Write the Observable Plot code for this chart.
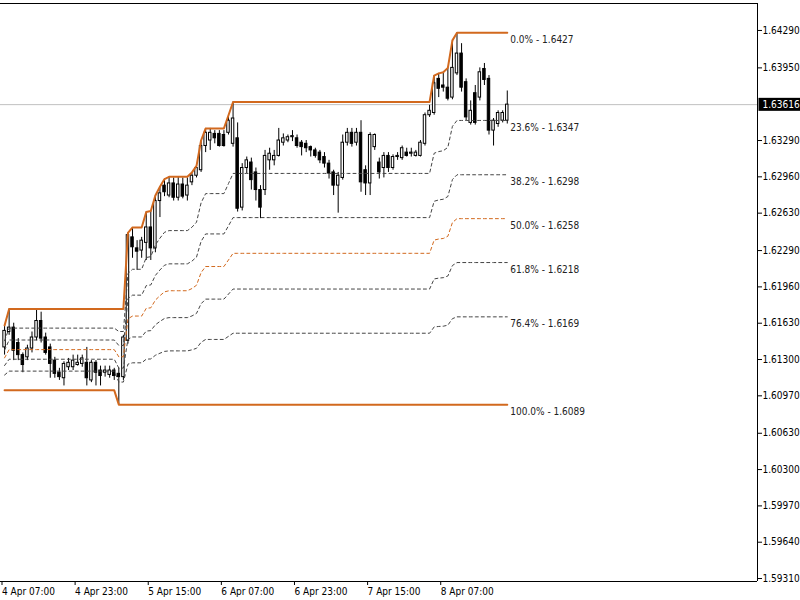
<!DOCTYPE html>
<html><head><meta charset="utf-8">
<script src="https://cdn.jsdelivr.net/npm/d3@7"></script>
<script src="https://cdn.jsdelivr.net/npm/@observablehq/plot@0.6"></script>
<style>body{margin:0;background:#fff;}#chart svg{display:block;}</style>
</head><body><div id="chart"></div>
<script>
// Hourly candles, bar 0 = 4 Apr 08:00 (hours counted from 4 Apr 07:00)
const firstHour = 1;
const openP = [1.6141,1.6155,1.6159,1.6145,1.6134,1.6132,1.6140,1.6150,1.6165,1.6150,
1.6141,1.6129,1.6118,1.6113,1.6123,1.6123,1.6125,1.6126,1.6127,1.6111,
1.6127,1.6120,1.6118,1.6116,1.6120,1.6117,1.6114,1.6147,1.6241,1.6231,
1.6229,1.6236,1.6250,1.6231,1.6274,1.6288,1.6279,1.6290,1.6277,1.6289,
1.6279,1.6291,1.6297,1.6302,1.6324,1.6329,1.6335,1.6335,1.6334,1.6336,
1.6326,1.6331,1.6268,1.6304,1.6309,1.6300,1.6284,1.6284,1.6311,1.6311,
1.6315,1.6327,1.6329,1.6332,1.6331,1.6327,1.6326,1.6323,1.6320,1.6318,
1.6314,1.6308,1.6300,1.6288,1.6295,1.6327,1.6336,1.6327,1.6336,1.6302,
1.6290,1.6323,1.6309,1.6304,1.6315,1.6304,1.6314,1.6313,1.6318,1.6317,
1.6315,1.6315,1.6326,1.6352,1.6354,1.6385,1.6379,1.6377,1.6368,1.6390,
1.6408,1.6382,1.6345,1.6372,1.6368,1.6394,1.6385,1.6338,1.6344,1.6347,1.6347];
const highP = [1.6161,1.6176,1.6163,1.6149,1.6136,1.6143,1.6155,1.6176,1.6173,1.6154,
1.6144,1.6132,1.6122,1.6128,1.6131,1.6134,1.6134,1.6134,1.6141,1.6129,
1.6129,1.6124,1.6124,1.6124,1.6122,1.6122,1.6152,1.6245,1.6250,1.6238,
1.6241,1.6264,1.6265,1.6279,1.6287,1.6294,1.6296,1.6295,1.6296,1.6295,
1.6295,1.6300,1.6306,1.6329,1.6340,1.6340,1.6338,1.6338,1.6338,1.6352,
1.6364,1.6345,1.6308,1.6314,1.6313,1.6304,1.6288,1.6320,1.6322,1.6320,
1.6340,1.6335,1.6334,1.6338,1.6334,1.6329,1.6329,1.6324,1.6322,1.6320,
1.6318,1.6311,1.6302,1.6300,1.6334,1.6340,1.6340,1.6340,1.6347,1.6306,
1.6336,1.6335,1.6313,1.6318,1.6318,1.6316,1.6318,1.6324,1.6322,1.6322,
1.6320,1.6329,1.6354,1.6361,1.6388,1.6390,1.6391,1.6395,1.6420,1.6427,
1.6417,1.6385,1.6365,1.6379,1.6395,1.6399,1.6388,1.6349,1.6356,1.6356,1.6374];
const lowP = [1.6134,1.6152,1.6129,1.6129,1.6118,1.6129,1.6136,1.6147,1.6145,1.6134,
1.6113,1.6113,1.6111,1.6106,1.6120,1.6120,1.6124,1.6123,1.6106,1.6109,
1.6106,1.6106,1.6114,1.6113,1.6111,1.6089,1.6111,1.6144,1.6222,1.6211,
1.6222,1.6220,1.6220,1.6227,1.6259,1.6278,1.6277,1.6274,1.6274,1.6276,
1.6274,1.6288,1.6295,1.6300,1.6318,1.6320,1.6326,1.6323,1.6323,1.6334,
1.6323,1.6264,1.6265,1.6299,1.6284,1.6274,1.6258,1.6279,1.6302,1.6306,
1.6314,1.6324,1.6327,1.6328,1.6322,1.6315,1.6318,1.6314,1.6313,1.6308,
1.6304,1.6294,1.6279,1.6263,1.6293,1.6324,1.6323,1.6324,1.6282,1.6279,
1.6279,1.6320,1.6294,1.6295,1.6300,1.6302,1.6311,1.6311,1.6314,1.6314,
1.6314,1.6314,1.6324,1.6350,1.6352,1.6368,1.6373,1.6365,1.6366,1.6388,
1.6373,1.6347,1.6343,1.6343,1.6365,1.6379,1.6334,1.6324,1.6341,1.6345,1.6344];
const closeP = [1.6156,1.6159,1.6138,1.6134,1.6125,1.6140,1.6150,1.6165,1.6149,1.6136,
1.6126,1.6117,1.6114,1.6126,1.6127,1.6129,1.6127,1.6131,1.6113,1.6127,
1.6118,1.6115,1.6120,1.6120,1.6115,1.6114,1.6150,1.6243,1.6232,1.6228,
1.6238,1.6250,1.6231,1.6274,1.6281,1.6282,1.6290,1.6277,1.6289,1.6278,
1.6288,1.6297,1.6304,1.6324,1.6336,1.6336,1.6331,1.6324,1.6324,1.6347,
1.6349,1.6267,1.6304,1.6311,1.6293,1.6284,1.6268,1.6315,1.6317,1.6315,
1.6329,1.6331,1.6332,1.6333,1.6324,1.6323,1.6322,1.6320,1.6315,1.6311,
1.6308,1.6299,1.6288,1.6297,1.6327,1.6336,1.6326,1.6336,1.6291,1.6290,
1.6334,1.6334,1.6300,1.6315,1.6304,1.6314,1.6315,1.6322,1.6315,1.6318,
1.6318,1.6327,1.6352,1.6356,1.6381,1.6376,1.6377,1.6367,1.6395,1.6408,
1.6377,1.6350,1.6356,1.6345,1.6391,1.6384,1.6338,1.6347,1.6354,1.6354,1.63616];

const swingLowBefore = 1.6102;              // 100% level before the new low
const fibPct = [0, 23.6, 38.2, 50, 61.8, 76.4, 100];
const lastPrice = 1.63616;
const priceTicks = [1.6429,1.6395,1.6329,1.6296,1.6263,1.6229,1.6196,1.6163,1.6130,1.6097,1.6063,1.6030,1.5997,1.5964,1.5931];
const timeTicks = [0,16,32,48,64,80,96];
const timeTickLabels = ["4 Apr 07:00","4 Apr 23:00","5 Apr 15:00","6 Apr 07:00","6 Apr 23:00","7 Apr 15:00","8 Apr 07:00"];

const bars = openP.map((o,i)=>({h:firstHour+i, o, hi:highP[i], lo:lowP[i], c:closeP[i]}));
let mx=-Infinity, mn=swingLowBefore;
const env = bars.map(b=>{mx=Math.max(mx,b.hi); mn=Math.min(mn,b.lo); return {h:b.h, top:mx, bot:mn};});
const fibRows = [];
for (const p of fibPct) for (const e of env) fibRows.push({pct:p, h:e.h, v:e.top - p/100*(e.top-e.bot)});
const last = env[env.length-1];
const fibLabels = fibPct.map(p=>({pct:p, v:last.top - p/100*(last.top-last.bot)}));

const orange = "#d2691e";
const xDomain = [0.1094, 165.755];
const yDomain = [1.59283, 1.64535];
const font = "'DejaVu Sans Condensed','DejaVu Sans',sans-serif";

const chart = Plot.plot({
  width: 800, height: 600,
  marginLeft: 0, marginRight: 43, marginTop: 3, marginBottom: 19,
  style: {fontFamily: font, fontSize: "10px", color: "#000", background: "#fff", overflow: "visible"},
  x: {type: "linear", domain: xDomain, axis: null, label: null},
  y: {type: "linear", domain: yDomain, axis: null, label: null},
  marks: [
    Plot.ruleY([lastPrice], {stroke: "#c0c0c0", strokeWidth: 1}),
    Plot.ruleX(bars, {x: "h", y1: "lo", y2: "hi", stroke: "#000", strokeWidth: 1}),
    Plot.rect(bars, {x1: d=>d.h-0.27, x2: d=>d.h+0.27, y1: "o", y2: "c",
      fill: d=>d.c>=d.o ? "#fff" : "#000", stroke: "#000", strokeWidth: 1}),
    Plot.line(fibRows.filter(d=>d.pct!==0 && d.pct!==100 && d.pct!==50), {x: "h", y: "v", z: "pct", stroke: "#444", strokeWidth: 1, strokeDasharray: "3,3"}),
    Plot.line(fibRows.filter(d=>d.pct===50), {x: "h", y: "v", z: "pct", stroke: orange, strokeWidth: 1, strokeDasharray: "3,3"}),
    Plot.line(fibRows.filter(d=>d.pct===0 || d.pct===100), {x: "h", y: "v", z: "pct", stroke: orange, strokeWidth: 2}),
    Plot.text(fibLabels, {x: last.h, y: "v", text: d=>`${d.pct.toFixed(1)}% - ${d.v.toFixed(4)}`,
      textAnchor: "start", dx: 3, dy: 7, fill: "#222", fontSize: 10}),
    Plot.ruleY([yDomain[1]], {stroke: "#000"}),
    Plot.ruleY([yDomain[0]], {stroke: "#000"}),
    Plot.ruleX([xDomain[1]], {stroke: "#000"}),
    Plot.axisY({anchor: "right", label: null, ticks: priceTicks, tickFormat: d=>d.toFixed(5), tickSize: 4, tickPadding: 1, fontSize: 10}),
    Plot.axisX({anchor: "bottom", label: null, ticks: timeTicks, tickFormat: d=>timeTickLabels[timeTicks.indexOf(d)], tickSize: 4, tickPadding: 2, textAnchor: "start", dx: 2, fontSize: 10}),
    Plot.text([lastPrice], {y: d=>d, frameAnchor: "right", dx: 5, textAnchor: "start", text: d=>d.toFixed(5), fill: "#fff", fontSize: 10})
  ]
});
document.getElementById("chart").appendChild(chart);
// black box behind the current price label
const label = lastPrice.toFixed(5);
Array.from(chart.querySelectorAll("text")).filter(t => t.textContent === label).forEach(t => {
  const b = t.getBBox();
  const r = document.createElementNS("http://www.w3.org/2000/svg", "rect");
  r.setAttribute("x", b.x - 4);
  r.setAttribute("y", b.y - 1);
  r.setAttribute("width", b.width + 20);
  r.setAttribute("height", b.height + 2);
  r.setAttribute("fill", "#000");
  const tr = t.getAttribute("transform");
  if (tr) r.setAttribute("transform", tr);
  t.parentNode.insertBefore(r, t);
});
</script>
</body></html>
